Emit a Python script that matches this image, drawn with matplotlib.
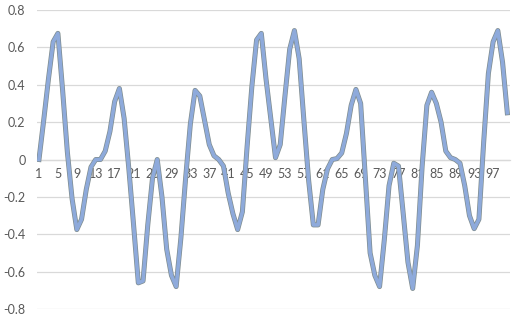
import numpy as np
import matplotlib
matplotlib.use("Agg")
import matplotlib.pyplot as plt
import matplotlib.patheffects as pe
from matplotlib.ticker import FuncFormatter, FixedLocator

# category index 1..100 and the values
points = list(range(1, 101))
values = [
    0.0, 0.21, 0.43, 0.63, 0.675, 0.37, 0.04, -0.21, -0.375, -0.32,
    -0.16, -0.04, 0.0, 0.0, 0.045, 0.15, 0.31, 0.38, 0.22, -0.05,
    -0.35, -0.66, -0.65, -0.35, -0.1, 0.0, -0.2, -0.48, -0.62, -0.68,
    -0.42, -0.1, 0.19, 0.37, 0.34, 0.21, 0.08, 0.02, 0.0, -0.035,
    -0.18, -0.29, -0.375, -0.28, 0.07, 0.39, 0.64, 0.675, 0.43, 0.22,
    0.01, 0.08, 0.34, 0.59, 0.69, 0.54, 0.21, -0.11, -0.35, -0.35,
    -0.16, -0.05, 0.0, 0.005, 0.035, 0.14, 0.29, 0.375, 0.3, -0.1,
    -0.5, -0.62, -0.68, -0.43, -0.14, -0.02, -0.035, -0.29, -0.55, -0.69,
    -0.46, -0.035, 0.29, 0.36, 0.3, 0.2, 0.045, 0.01, 0.0, -0.02,
    -0.14, -0.3, -0.37, -0.32, 0.09, 0.46, 0.63, 0.69, 0.52, 0.25,
]
xtick_labels = list(range(1, 101, 4))
ytick_values = [-0.8, -0.6, -0.4, -0.2, 0, 0.2, 0.4, 0.6, 0.8]

plt.rcParams['font.family'] = ['Lato', 'DejaVu Sans']

fig = plt.figure(figsize=(5.17, 3.23), dpi=100)
ax = fig.add_axes([0.0708, 0.0433, 0.915, 0.9257])

ax.plot(points, values, color='#8eaadb', linewidth=2.6, solid_joinstyle='round',
        path_effects=[pe.Stroke(linewidth=3.6, foreground='#7f8c8d'), pe.Normal()], zorder=3)

ax.set_xlim(0.5, 100.5)
ax.set_ylim(-0.8, 0.8)

ax.yaxis.set_major_locator(FixedLocator(ytick_values))
ax.yaxis.set_major_formatter(FuncFormatter(lambda v, p: '%g' % round(v, 1)))
ax.xaxis.set_major_locator(FixedLocator(xtick_labels))
ax.xaxis.set_major_formatter(FuncFormatter(lambda v, p: '%d' % v))

ax.grid(True, axis='y', color='#d9d9d9', linewidth=0.9)
ax.set_axisbelow(True)
for s in ['top', 'right', 'left']:
    ax.spines[s].set_visible(False)
ax.spines['bottom'].set_position(('data', 0))
ax.spines['bottom'].set_color('#d9d9d9')
ax.spines['bottom'].set_linewidth(0.9)

ax.tick_params(axis='both', length=0, labelsize=9, labelcolor='#595959')
ax.tick_params(axis='y', pad=8)
ax.tick_params(axis='x', pad=6)

fig.savefig('out.png', dpi=100)
